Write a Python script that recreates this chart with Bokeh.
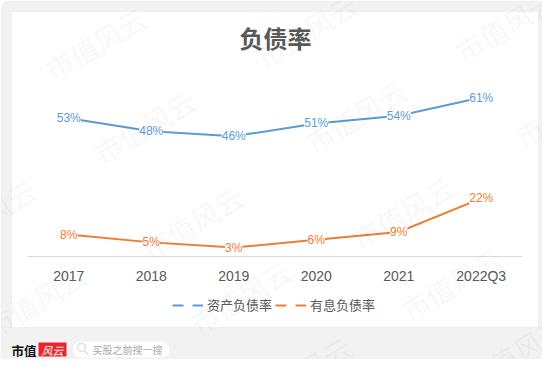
from bokeh.plotting import figure
from bokeh.models import (ColumnDataSource, LabelSet, Label, Legend, LegendItem,
                          BoxAnnotation, PolyAnnotation, Range1d, FixedTicker)
from bokeh.core.properties import value
from bokeh.embed import file_html
from bokeh.resources import INLINE

# ---- data ----
categories = ["2017", "2018", "2019", "2020", "2021", "2022Q3"]
asset_debt_ratio = [53, 48, 46, 51, 54, 61]      # 资产负债率 (%)
interest_debt_ratio = [8, 5, 3, 6, 9, 22]         # 有息负债率 (%)
series_names = ["资产负债率", "有息负债率"]
chart_title = "负债率"

BLUE = "#5b9bd5"
ORANGE = "#ed7d31"
GREY_TXT = "#595959"
NUM = value("Liberation Sans")

W, H = 542, 359

def sx(rx):
    return rx

def sy(ry):
    return H - ry

xpos = list(range(len(categories)))

p = figure(width=W, height=H, title=None,
           x_range=Range1d(-0.8273, len(categories) - 0.2576),
           y_range=Range1d(-40.29, 98.53),
           output_backend="svg", toolbar_location=None,
           y_axis_location=None,
           min_border=0, min_border_left=0, min_border_right=0,
           min_border_top=0, min_border_bottom=0)
p.border_fill_color = "white"
p.background_fill_color = "white"
p.outline_line_color = None
p.xgrid.visible = False
p.ygrid.visible = False

def sbox(l, r, t, b, **kw):
    return BoxAnnotation(left=sx(l), right=sx(r), top=sy(t), bottom=sy(b),
                         left_units="screen", right_units="screen",
                         top_units="screen", bottom_units="screen", **kw)

# grey card with rounded corner, then white panel
p.add_layout(sbox(0, 570, 0, 390, fill_color="#f2f2f2", fill_alpha=1,
                  line_color=None, border_radius=9, level="underlay"))
p.add_layout(sbox(11, 538, 11, 327, fill_color="white", fill_alpha=1,
                  line_color="#d6d6d6", line_width=1, level="underlay"))

# x axis (drawn inside the canvas at the zero line)
ax = p.xaxis[0]
ax.fixed_location = -0.45
ax.bounds = (-0.5, len(categories) - 0.5)
ax.ticker = FixedTicker(ticks=xpos)
ax.major_label_overrides = {i: c for i, c in zip(xpos, categories)}
ax.axis_line_color = "#d9d9d9"
ax.axis_line_width = 1
ax.major_tick_line_color = None
ax.minor_tick_line_color = None
ax.major_tick_out = 0
ax.major_tick_in = 0
ax.major_label_standoff = 12
ax.major_label_text_font_size = "14px"
ax.major_label_text_color = GREY_TXT
ax.major_label_text_font = "Liberation Sans"

# lines
src1 = ColumnDataSource(dict(x=xpos, y=asset_debt_ratio,
                             t=[f"{v}%" for v in asset_debt_ratio]))
src2 = ColumnDataSource(dict(x=xpos, y=interest_debt_ratio,
                             t=[f"{v}%" for v in interest_debt_ratio]))
p.line("x", "y", source=src1, line_color=BLUE, line_width=2)
p.line("x", "y", source=src2, line_color=ORANGE, line_width=2)

for src, col in ((src1, BLUE), (src2, ORANGE)):
    p.add_layout(LabelSet(x="x", y="y", text="t", source=src,
                          text_align="center", text_baseline="middle",
                          text_color=col, text_font_size="12px", text_font=NUM,
                          background_fill_color="white", background_fill_alpha=1))

# legend (dashed icons)
nan = float("nan")
d1 = p.line(x=[0, 1], y=[nan, nan], line_color=BLUE, line_width=2, line_dash="11 9")
d2 = p.line(x=[0, 1], y=[nan, nan], line_color=ORANGE, line_width=2, line_dash="11 9")
legend = Legend(items=[LegendItem(label=series_names[0], renderers=[d1]),
                       LegendItem(label=series_names[1], renderers=[d2])],
                orientation="horizontal", location=(sx(172), sy(314)),
                glyph_width=31, glyph_height=16, label_height=16, label_width=10,
                label_standoff=4, spacing=3, padding=0, margin=0,
                border_line_color=None, background_fill_alpha=0,
                label_text_font_size="13px", label_text_color=GREY_TXT,
                label_text_font="Noto Sans CJK SC")
p.add_layout(legend, "center")

# title
p.add_layout(Label(x=sx(275), y=sy(37), x_units="screen", y_units="screen",
                   text=chart_title, text_align="center", text_baseline="middle",
                   text_font_size="24px", text_font_style="bold",
                   text_color=GREY_TXT, text_font="Noto Sans CJK SC"))

# footer: logo + search box
p.add_layout(Label(x=sx(23.5), y=sy(349.5), x_units="screen", y_units="screen",
                   text="市值", text_align="center", text_baseline="middle",
                   text_font_size="12.5px", text_font_style="bold",
                   text_color="#111111", text_font="Noto Sans CJK SC"))
p.add_layout(sbox(38, 66, 342, 356, fill_color="#e8262d", fill_alpha=1,
                  line_color=None, level="overlay"))
p.add_layout(Label(x=sx(52), y=sy(349), x_units="screen", y_units="screen",
                   text="风云", text_align="center", text_baseline="middle",
                   text_font_size="11px", text_font_style="italic",
                   text_color="white", text_font="Noto Sans CJK SC", level="overlay"))
p.add_layout(sbox(72, 169, 341, 357, fill_color="white", fill_alpha=1,
                  line_color=None, border_radius=8, level="underlay"))
p.add_layout(sbox(77, 85, 343, 351, fill_alpha=0, line_color="#999999",
                  line_width=1.5, border_radius=4, level="overlay"))
p.add_layout(PolyAnnotation(xs=[sx(84), sx(87.5)], ys=[sy(350.5), sy(354)],
                            xs_units="screen", ys_units="screen",
                            fill_alpha=0, line_color="#999999", line_width=1.5,
                            level="overlay"))
p.add_layout(Label(x=sx(92), y=sy(349), x_units="screen", y_units="screen",
                   text="买股之前搜一搜", text_align="left", text_baseline="middle",
                   text_font_size="10px", text_color="#aaaaaa",
                   text_font="Noto Sans CJK SC"))

# watermarks
wm_centres = [(95, 43), (306, 30), (505, 25), (144, 126), (355, 115), (565, 110),
              (192, 222), (402, 212), (35, 300), (240, 296), (451, 283),
              (85, 378), (300, 372), (515, 352), (-15, 215)]
for cx, cy in wm_centres:
    p.add_layout(Label(x=sx(cx), y=sy(cy), x_units="screen", y_units="screen",
                       text="市值风云", text_align="center", text_baseline="middle",
                       angle=0.54, text_font_size="28px", text_color="#000000",
                       text_alpha=0.05, text_font="Noto Sans CJK SC", level="overlay"))

open("out.html", "w").write(file_html(p, INLINE))
